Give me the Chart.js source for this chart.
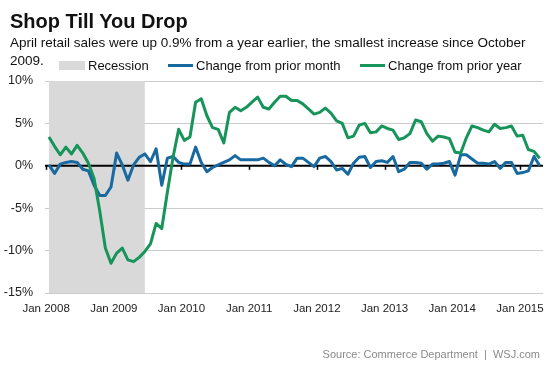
<!DOCTYPE html>
<html><head><meta charset="utf-8">
<script src="https://cdn.jsdelivr.net/npm/chart.js@4.4.0/dist/chart.umd.min.js"></script>
<style>
html,body{margin:0;padding:0;background:#fff;}
#wrap{position:relative;width:553px;height:369px;overflow:hidden;font-family:"Liberation Sans",Arial,sans-serif;color:#111;}
canvas{position:absolute;left:0;top:0;}
.t{position:absolute;white-space:nowrap;line-height:1;}
.sw{position:absolute;}
</style></head><body>
<div id="wrap">
<canvas id="c" width="553" height="369"></canvas>
<div class="t" style="left:10px;top:11px;font-size:20px;font-weight:bold;">Shop Till You Drop</div>
<div class="t" style="left:10px;top:35.6px;font-size:13.5px;">April retail sales were up 0.9% from a year earlier, the smallest increase since October</div>
<div class="t" style="left:10px;top:54px;font-size:13.5px;">2009.</div>
<div class="sw" style="left:59px;top:61px;width:26px;height:9px;background:#d9d9d9;"></div>
<div class="t" style="left:88px;top:58.6px;font-size:13px;">Recession</div>
<div class="sw" style="left:168px;top:63.5px;width:25px;height:3px;background:#17699f;"></div>
<div class="t" style="left:196px;top:58.6px;font-size:13px;">Change from prior month</div>
<div class="sw" style="left:360px;top:63.5px;width:25px;height:3px;background:#17945a;"></div>
<div class="t" style="left:388px;top:58.6px;font-size:13px;">Change from prior year</div>
<div class="t" style="right:13px;top:348.5px;font-size:11px;color:#8a8a8a;">Source: Commerce Department &nbsp;|&nbsp; WSJ.com</div>
</div>
<script>
// ---- data ----
const monthNames = ['Jan','Feb','Mar','Apr','May','Jun','Jul','Aug','Sep','Oct','Nov','Dec'];
const months = [];
for (let yr = 2008; yr <= 2015; yr++) for (let m = 0; m < 12; m++) { if (yr === 2015 && m > 3) break; months.push(monthNames[m] + ' ' + yr); }

const priorMonth = [
  0.1, -0.9, 0.2, 0.4, 0.5, 0.4, -0.4, -0.6, -2.3, -3.5, -3.5, -2.5,
  1.5, 0.1, -1.7, 0.1, 1.0, 1.4, 0.5, 2.0, -2.3, 0.9, 1.1, 0.4,
  0.2, 0.2, 2.2, 0.4, -0.7, -0.2, 0.1, 0.4, 0.7, 1.2, 0.7, 0.7,
  0.7, 0.7, 0.9, 0.4, 0.0, 0.7, 0.15, -0.1, 0.9, 0.9, 0.4, -0.1,
  0.9, 1.1, 0.5, -0.5, -0.3, -1.0, 0.3, 1.0, 1.1, -0.2, 0.5, 0.6,
  0.4, 1.1, -0.7, -0.4, 0.4, 0.4, 0.3, -0.4, 0.2, 0.2, 0.3, 0.5,
  -1.1, 1.3, 1.3, 0.8, 0.3, 0.3, 0.2, 0.5, -0.3, 0.4, 0.4, -0.9,
  -0.8, -0.6, 1.1, 0.0
];
const priorYear = [
  3.4, 2.3, 1.3, 2.2, 1.4, 2.4, 1.5, 0.3, -1.5, -5.3, -9.7, -11.5,
  -10.3, -9.7, -11.1, -11.3, -10.8, -10.1, -9.2, -6.8, -7.4, -3.1, 1.0, 4.3,
  3.0, 3.4, 7.5, 7.9, 5.9, 4.5, 4.3, 2.7, 6.3, 6.9, 6.5, 6.9,
  7.5, 8.1, 6.9, 6.7, 7.5, 8.2, 8.2, 7.7, 7.7, 7.3, 6.7, 6.1,
  6.3, 6.8, 6.2, 5.3, 5.0, 3.3, 3.5, 4.8, 5.0, 3.9, 4.0, 4.7,
  4.4, 4.2, 3.1, 3.3, 3.8, 5.4, 5.2, 3.8, 2.9, 3.5, 3.4, 3.2,
  1.6, 1.5, 3.3, 4.7, 4.5, 4.2, 4.0, 4.9, 4.4, 4.5, 4.7, 3.5,
  3.6, 1.9, 1.7, 0.9
];
const yearTicks = ['Jan 2008','Jan 2009','Jan 2010','Jan 2011','Jan 2012','Jan 2013','Jan 2014','Jan 2015'];
const yTicks = [10, 5, 0, -5, -10, -15];
const recessionStart = 'Jan 2008';
const recessionEnd = 'Jun 2009';

const BLUE = '#17699f', GREEN = '#17945a', REC = '#d9d9d9';
const FONT = '"Liberation Sans", Arial, sans-serif';

const deco = {
  id: 'deco',
  beforeDatasetsDraw(chart) {
    const { ctx, chartArea: a, scales: { x, y } } = chart;
    ctx.save();
    const x0 = x.getPixelForValue(months.indexOf(recessionStart));
    const x1 = x.getPixelForValue(months.indexOf(recessionEnd));
    const yt = y.getPixelForValue(yTicks[0]), yb = y.getPixelForValue(yTicks[yTicks.length - 1]);
    ctx.fillStyle = REC;
    ctx.fillRect(x0, yt, x1 - x0, yb - yt);
    const y0 = y.getPixelForValue(0);
    ctx.strokeStyle = '#000';
    ctx.lineWidth = 2;
    ctx.beginPath(); ctx.moveTo(a.left, y0); ctx.lineTo(a.right, y0); ctx.stroke();
    ctx.lineWidth = 1.5;
    x.ticks.forEach(t => {
      const px = Math.round(x.getPixelForValue(t.value)) + 0.5;
      ctx.beginPath(); ctx.moveTo(px, y0); ctx.lineTo(px, y0 + 4); ctx.stroke();
    });
    ctx.restore();
  }
};

new Chart(document.getElementById('c'), {
  type: 'line',
  data: {
    datasets: [
      { label: 'Change from prior year', data: priorYear.map((v, i) => ({ x: i, y: v })), borderColor: GREEN, borderWidth: 3, pointRadius: 0, tension: 0, borderJoinStyle: 'round', fill: false },
      { label: 'Change from prior month', data: priorMonth.map((v, i) => ({ x: i, y: v })), borderColor: BLUE, borderWidth: 3, pointRadius: 0, tension: 0, borderJoinStyle: 'round', fill: false }
    ]
  },
  options: {
    responsive: false,
    animation: false,
    devicePixelRatio: 1,
    layout: { padding: { top: 81, right: 9, bottom: 0, left: 0 } },
    plugins: { legend: { display: false }, title: { display: false }, tooltip: { enabled: false } },
    scales: {
      x: {
        type: 'linear', min: -0.7, max: months.length - 0.4,
        grid: { display: false, drawTicks: false },
        border: { display: false },
        afterBuildTicks: s => { s.ticks = yearTicks.map(t => ({ value: months.indexOf(t) - 0.5 })); },
        afterFit: s => { s.height = 76; },
        ticks: { autoSkip: false, maxRotation: 0, padding: 9, color: '#222', font: { family: FONT, size: 11.5 }, callback: (v, i) => yearTicks[i] }
      },
      y: {
        min: yTicks[yTicks.length - 1], max: yTicks[0],
        grid: { color: c => (c.tick && c.tick.value === 0) ? 'rgba(0,0,0,0)' : '#cccccc', lineWidth: 1, drawTicks: false },
        border: { display: false },
        afterBuildTicks: s => { s.ticks = yTicks.map(v => ({ value: v })); },
        afterFit: s => { s.width = 45; },
        ticks: { padding: 12, color: '#222', font: { family: FONT, size: 12.5 }, callback: v => v + '%' }
      }
    }
  },
  plugins: [deco]
});
</script>
</body></html>
